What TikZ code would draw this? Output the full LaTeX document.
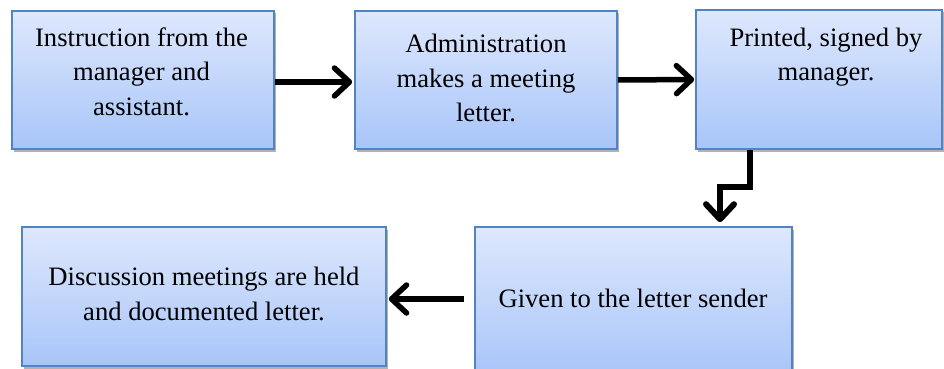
\documentclass[tikz,border=0pt]{standalone}
\usepackage{fontspec}
\setmainfont{Liberation Serif}
\newfontfamily\boxserif{Liberation Serif}
\usetikzlibrary{arrows.meta,shadows}
\definecolor{boxtop}{HTML}{DEE8FD}
\definecolor{boxbot}{HTML}{A8C5F9}
\definecolor{boxline}{HTML}{5283C2}
\tikzset{
  flowbox/.style={rectangle, draw=boxline, line width=1.6pt, top color=boxtop, bottom color=boxbot,
    inner sep=0pt, drop shadow={shadow xshift=1.5pt, shadow yshift=-2.5pt, fill=black, opacity=0.3}},
  boxtext/.style={anchor=base, align=center, inner sep=0pt, font=\boxserif\fontsize{26.6}{34.5}\selectfont},
  flowarrow/.style={line width=5.5pt, -{Straight Barb[round, length=15pt, width=28pt]}}
}
\begin{document}
\begin{tikzpicture}[x=1pt, y=-1pt]
\useasboundingbox (0,0) rectangle (944,369);
\clip (0,0) rectangle (944,369);
% boxes
\node[flowbox, minimum width=262pt, minimum height=138pt] (b1) at (143,80) {};
\node[flowbox, minimum width=262pt, minimum height=138pt] (b2) at (486,80) {};
\node[flowbox, minimum width=246pt, minimum height=139pt] (b3) at (819,79.5) {};
\node[flowbox, minimum width=317pt, minimum height=148pt] (b4) at (633.5,301) {};
\node[flowbox, minimum width=364pt, minimum height=139pt] (b5) at (204,296.5) {};
% texts (anchor base = baseline of the last line)
\node[boxtext] (t1) at (141.5,115) {Instruction from the\\manager and\\assistant.};
\node[boxtext] (t2) at (486,121.5) {Administration\\makes a meeting\\letter.};
\node[boxtext] (t3) at (826,81) {Printed, signed by\\manager.};
\node[boxtext] (t4) at (633,307) {Given to the letter sender};
\node[boxtext] (t5) at (204,320) {Discussion meetings are held\\and documented letter.};
% connectors
\draw[flowarrow, shorten >=2pt] ([yshift=-2pt]b1.east) -- ([yshift=-2pt]b2.west);
\draw[flowarrow, shorten >=1pt] (b2.east) -- (b3.west);
\coordinate (k1) at (750,187);
\coordinate (k2) at (720,187);
\draw[flowarrow, line width=6pt, shorten >=4pt, line join=miter] (b3.south -| k1) -- (k1) -- (k2) -- (b4.north -| k2);
\coordinate (m) at (0,299);
\draw[flowarrow, shorten >=2pt] ([xshift=-10pt]b4.west |- m) -- (b5.east |- m);
\end{tikzpicture}
\end{document}
